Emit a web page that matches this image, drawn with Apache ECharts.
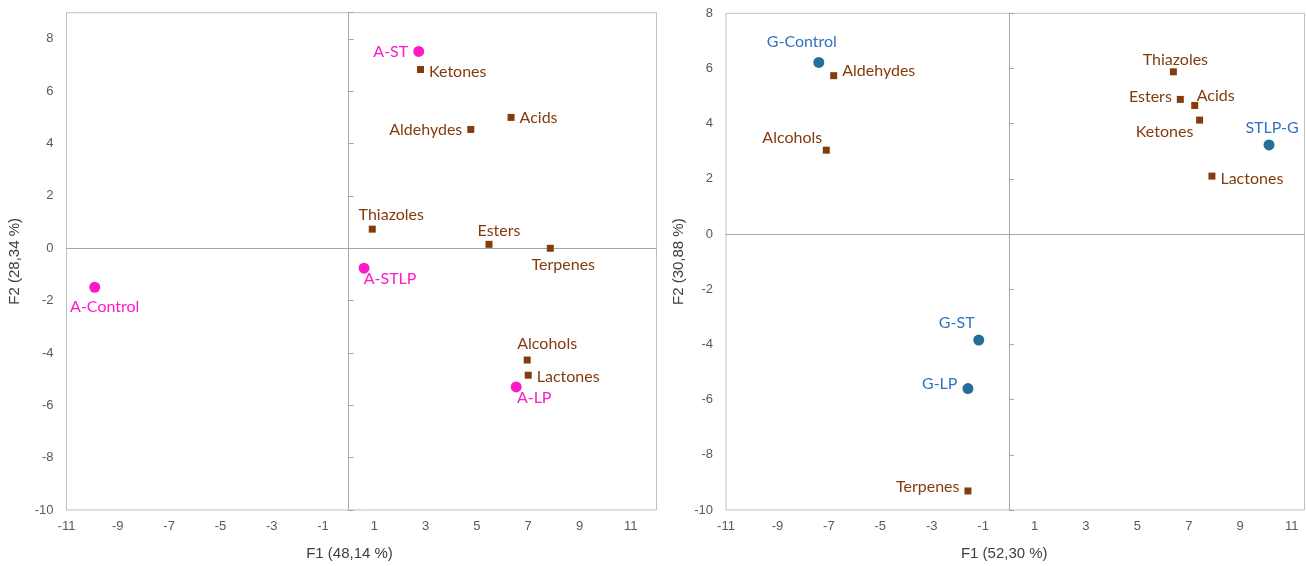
<!DOCTYPE html>
<html>
<head>
<meta charset="utf-8">
<script src="https://cdn.jsdelivr.net/npm/echarts@6/dist/echarts.min.js"></script>
<style>
html, body { margin: 0; padding: 0; background: #fff; }
#chart { width: 1306px; height: 566px; }
</style>
</head>
<body>
<div id="chart"></div>
<script>
// left panel (A): samples and compound classes
var aSampleNames = ['A-ST', 'A-STLP', 'A-Control', 'A-LP'];
var aSampleF1 = [2.73, 0.6, -9.9, 6.53];
var aSampleF2 = [7.52, -0.76, -1.49, -5.3];
var aVarNames = ['Ketones', 'Acids', 'Aldehydes', 'Thiazoles', 'Esters', 'Terpenes', 'Alcohols', 'Lactones'];
var aVarF1 = [2.8, 6.33, 4.76, 0.92, 5.47, 7.86, 6.96, 7.0];
var aVarF2 = [6.83, 5.0, 4.54, 0.73, 0.15, 0.0, -4.27, -4.85];

// right panel (G)
var gSampleNames = ['G-Control', 'STLP-G', 'G-ST', 'G-LP'];
var gSampleF1 = [-7.39, 10.12, -1.17, -1.59];
var gSampleF2 = [6.22, 3.23, -3.84, -5.6];
var gVarNames = ['Aldehydes', 'Alcohols', 'Thiazoles', 'Esters', 'Acids', 'Ketones', 'Lactones', 'Terpenes'];
var gVarF1 = [-6.81, -7.1, 6.4, 6.67, 7.23, 7.42, 7.9, -1.59];
var gVarF2 = [5.74, 3.04, 5.88, 4.88, 4.66, 4.13, 2.1, -9.31];

var axisTitles = ['F1 (48,14 %)', 'F2 (28,34 %)', 'F1 (52,30 %)', 'F2 (30,88 %)'];

// label placement: [position, dx, dy]
var labelPlace = {
	'A-ST': ['left', 0, 0], 'A-STLP': ['bottom', 26, -8], 'A-Control': ['bottom', 10, 1], 'A-LP': ['bottom', 18, -8],
	'A:Ketones': ['right', 0, 2], 'A:Acids': ['right', 0, 0], 'A:Aldehydes': ['left', 0, 0], 'A:Thiazoles': ['top', 19, 2],
	'A:Esters': ['top', 10, 3], 'A:Terpenes': ['bottom', 13, 0], 'A:Alcohols': ['top', 20, 0], 'A:Lactones': ['right', 0, 2],
	'G-Control': ['top', -17, -2], 'STLP-G': ['top', 3, 1], 'G-ST': ['top', -22, 1], 'G-LP': ['left', 0, -5],
	'G:Aldehydes': ['right', 0, -5], 'G:Alcohols': ['top', -34, 4], 'G:Thiazoles': ['top', 2, 5], 'G:Esters': ['left', 0, -3],
	'G:Acids': ['top', 21, 7], 'G:Ketones': ['bottom', -35, -5], 'G:Lactones': ['right', 0, 3], 'G:Terpenes': ['left', 0, -4]
};

// tiny stand-in for jQuery extend, no jQuery on this page
var $ = { extend: function(a, b) { for (var k in b) a[k] = b[k]; return a; } };

function buildPoints(names, xs, ys, prefix) {
	var out = [];
	for (var i = 0; i < names.length; i++) {
		var p = labelPlace[prefix + names[i]] || ['right', 0, 0];
		out.push({
			name: names[i],
			value: [xs[i], ys[i]],
			label: { position: p[0], offset: [p[1], p[2]] }
		});
	}
	return out;
}

var tickFont = { color: '#595959', fontSize: 13, fontFamily: 'Liberation Sans' };
var nameFont = { color: '#404040', fontSize: 15, fontFamily: 'Liberation Sans' };

function labelAxisX(grid, title, max, pad) {
	return {
		type: 'value', gridIndex: grid, min: -11, max: max, interval: 2,
		name: title, nameLocation: 'middle', nameGap: 36,
		nameTextStyle: $.extend({ padding: pad }, nameFont),
		axisLine: { show: false, onZero: false },
		axisTick: { show: false },
		splitLine: { show: false },
		axisLabel: $.extend({ margin: 10, showMaxLabel: false }, tickFont)
	};
}
function zeroAxisX(grid, max) {
	return {
		type: 'value', gridIndex: grid, min: -11, max: max, interval: 2,
		axisLine: { show: true, onZero: true, lineStyle: { color: '#A6A6A6', width: 1 } },
		axisTick: { show: false },
		splitLine: { show: false },
		axisLabel: { show: false }
	};
}
function labelAxisY(grid, title, max, showMax, margin, gap) {
	return {
		type: 'value', gridIndex: grid, min: -10, max: max, interval: 2,
		name: title, nameLocation: 'middle', nameGap: gap,
		nameTextStyle: nameFont,
		axisLine: { show: false, onZero: false },
		axisTick: { show: false },
		splitLine: { show: false },
		axisLabel: $.extend({ margin: margin, showMaxLabel: showMax }, tickFont)
	};
}
function zeroAxisY(grid, max) {
	return {
		type: 'value', gridIndex: grid, min: -10, max: max, interval: 2,
		axisLine: { show: true, onZero: true, lineStyle: { color: '#A6A6A6', width: 1 } },
		axisTick: { show: true, length: 5, lineStyle: { color: '#A6A6A6' } },
		splitLine: { show: false },
		axisLabel: { show: false }
	};
}

var labelFont = { fontSize: 16, fontFamily: 'Lato' };

function pointSeries(data, xi, yi, symbol, size, color, labelColor) {
	return {
		type: 'scatter', xAxisIndex: xi, yAxisIndex: yi,
		symbol: symbol, symbolSize: size,
		itemStyle: { color: color, opacity: 1 },
		label: $.extend({ show: true, formatter: '{b}', color: labelColor, distance: 5 }, labelFont),
		emphasis: { disabled: true },
		data: data
	};
}

var myChart = echarts.init(document.getElementById('chart'));
var option = {
	animation: false,
	grid: [
		{ left: 66.5, top: 12.7, width: 590, height: 497.5, show: true, borderColor: '#BFBFBF', borderWidth: 1, containLabel: false },
		{ left: 726, top: 13.3, width: 578.5, height: 500.8, show: true, borderColor: '#BFBFBF', borderWidth: 1, containLabel: false }
	],
	xAxis: [
		labelAxisX(0, axisTitles[0], 12, [0, 24, 0, 0]),
		zeroAxisX(0, 12),
		labelAxisX(1, axisTitles[2], 11.5, [0, 22, 0, 0]),
		zeroAxisX(1, 11.5)
	],
	yAxis: [
		labelAxisY(0, axisTitles[1], 9, false, 13, 44),
		zeroAxisY(0, 9),
		labelAxisY(1, axisTitles[3], 8, true, 13, 40),
		zeroAxisY(1, 8)
	],
	series: [
		pointSeries(buildPoints(aVarNames, aVarF1, aVarF2, 'A:'), 0, 0, 'rect', 7, '#843C0C', '#843C0C'),
		pointSeries(buildPoints(aSampleNames, aSampleF1, aSampleF2, ''), 0, 0, 'circle', 11, '#FF19C8', '#FF19C8'),
		pointSeries(buildPoints(gVarNames, gVarF1, gVarF2, 'G:'), 2, 2, 'rect', 7, '#843C0C', '#843C0C'),
		pointSeries(buildPoints(gSampleNames, gSampleF1, gSampleF2, ''), 2, 2, 'circle', 11, '#246F98', '#2E75C0')
	]
};
myChart.setOption(option);
</script>
</body>
</html>
